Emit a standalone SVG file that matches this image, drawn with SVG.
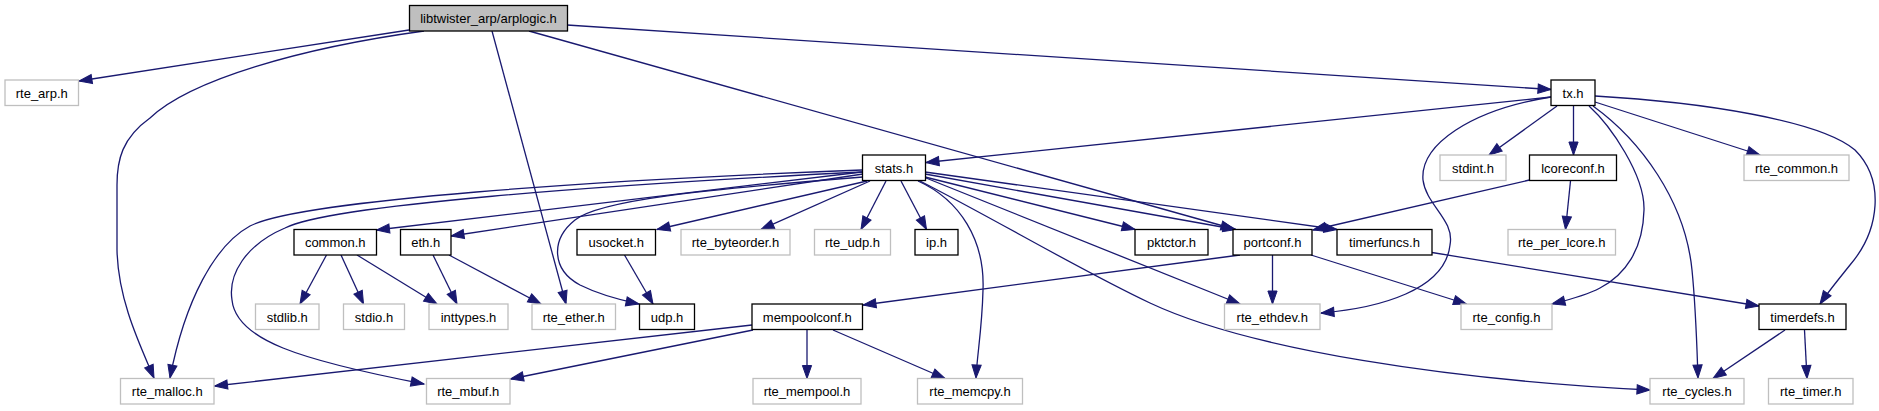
<svg xmlns="http://www.w3.org/2000/svg" width="1879" height="411" viewBox="0 0 1879 411">
<style>
.n rect{stroke-width:1.3}
.root rect{fill:#bfbfbf;stroke:#000}
.doc rect{fill:#fff;stroke:#000}
.ext rect{fill:#fff;stroke:#bfbfbf}
text{font-family:"Liberation Sans",Arial,sans-serif;font-size:13px;fill:#000;text-anchor:middle}
#edges path{fill:none;stroke:#191970;stroke-width:1.3;marker-end:url(#ah)}
</style>
<defs>
<marker id="ah" markerUnits="userSpaceOnUse" markerWidth="14" markerHeight="10" refX="13" refY="5" orient="auto" overflow="visible">
<path d="M0,0.4 L13,5 L0,9.6 z" fill="#191970" stroke="#191970" stroke-width="1"/>
</marker>
</defs>
<rect width="1879" height="411" fill="#fff"/>
<g id="edges">
<path d="M409,30 L79,81"/>
<path d="M424,31 C300,48 190,80 150,118 C122,138 117,160 117,185 L117,250 C118,300 140,345 154,378"/>
<path d="M492,31 L566,304"/>
<path d="M529,31 L1234,229"/>
<path d="M567,25 L1551,89.5"/>
<path d="M1551,97 L926,162.5"/>
<path d="M1551,97 C1470,110 1420,145 1423,180 C1426,205 1455,220 1450,245 C1445,290 1380,308 1321,313"/>
<path d="M1557,106 L1489,155"/>
<path d="M1573.5,106 L1573.5,155"/>
<path d="M1589,106 C1610,125 1645,175 1644,210 C1643,250 1625,275 1600,288 C1585,296 1568,300 1552,304"/>
<path d="M1593,106 C1640,140 1685,200 1692,270 C1696,310 1697,350 1698,378"/>
<path d="M1595,102 L1760,155"/>
<path d="M1595,96 C1700,102 1820,120 1855,150 C1885,180 1880,230 1850,265 C1838,280 1828,292 1820,304"/>
<path d="M862,170 C600,180 300,200 250,226 C215,245 185,300 170,378"/>
<path d="M862,172 C600,185 330,205 285,228 C245,245 228,275 232,300 C236,340 300,360 424,384"/>
<path d="M862,172 L376.5,230"/>
<path d="M863,174 L451,236"/>
<path d="M863,177 C700,190 600,200 575,220 C550,240 552,270 580,285 C600,295 620,300 639,304"/>
<path d="M867,181 L657,229.5"/>
<path d="M870,181 L761,229.5"/>
<path d="M886,181 L861,229.5"/>
<path d="M901,181 L926.5,229.5"/>
<path d="M918,181 C960,200 985,240 983,290 C982,330 977,355 976,378"/>
<path d="M925,177 L1135,229.5"/>
<path d="M925,174 L1236,229.5"/>
<path d="M925,172 L1337,229.5"/>
<path d="M926,178 L1240,304"/>
<path d="M920,181 C1000,222 1080,270 1150,303 C1250,350 1450,380 1650,390"/>
<path d="M326.5,255 L300,304"/>
<path d="M341,255 L363.5,304"/>
<path d="M357,255 L437,304"/>
<path d="M433,255 L457,304"/>
<path d="M449,255 L541,304"/>
<path d="M624.5,255 L653,304"/>
<path d="M1529.5,180 L1313,230"/>
<path d="M1570.5,181 L1565.5,229.5"/>
<path d="M1240,255 L863,305"/>
<path d="M1272.5,255 L1272.5,304"/>
<path d="M1311,255 L1466.5,304"/>
<path d="M1432,252.5 L1759,306"/>
<path d="M752,325 L214.5,386"/>
<path d="M753,330 L510.5,379"/>
<path d="M807,330 L807,378.5"/>
<path d="M833,330 L945,378.5"/>
<path d="M1785,330 L1713,378.5"/>
<path d="M1804.5,330 L1807,378.5"/>
</g>
<g id="n_arplogic" class="n root"><rect x="409.5" y="5.5" width="158" height="25.5"/><text x="488.5" y="23">libtwister_arp/arplogic.h</text></g>
<g id="n_rte_arp" class="n ext"><rect x="5" y="80" width="73.5" height="25.5"/><text x="41.75" y="97.5">rte_arp.h</text></g>
<g id="n_tx" class="n doc"><rect x="1551" y="80" width="44" height="25.5"/><text x="1573" y="97.5">tx.h</text></g>
<g id="n_stats" class="n doc"><rect x="862.5" y="155" width="63" height="25.5"/><text x="894" y="172.5">stats.h</text></g>
<g id="n_stdint" class="n ext"><rect x="1440" y="155" width="66" height="25.5"/><text x="1473" y="172.5">stdint.h</text></g>
<g id="n_lcoreconf" class="n doc"><rect x="1529.5" y="155" width="87" height="25.5"/><text x="1573" y="172.5">lcoreconf.h</text></g>
<g id="n_rte_common" class="n ext"><rect x="1744" y="155" width="105" height="25.5"/><text x="1796.5" y="172.5">rte_common.h</text></g>
<g id="n_common" class="n doc"><rect x="294" y="229.5" width="82.5" height="25.5"/><text x="335.25" y="247">common.h</text></g>
<g id="n_eth" class="n doc"><rect x="400.5" y="229.5" width="50.5" height="25.5"/><text x="425.75" y="247">eth.h</text></g>
<g id="n_usocket" class="n doc"><rect x="577" y="229.5" width="78.5" height="25.5"/><text x="616.25" y="247">usocket.h</text></g>
<g id="n_rte_byteorder" class="n ext"><rect x="681" y="229.5" width="109" height="25.5"/><text x="735.5" y="247">rte_byteorder.h</text></g>
<g id="n_rte_udp" class="n ext"><rect x="814.5" y="229.5" width="76" height="25.5"/><text x="852.5" y="247">rte_udp.h</text></g>
<g id="n_ip" class="n doc"><rect x="915" y="229.5" width="43" height="25.5"/><text x="936.5" y="247">ip.h</text></g>
<g id="n_pktctor" class="n doc"><rect x="1135" y="229.5" width="73" height="25.5"/><text x="1171.5" y="247">pktctor.h</text></g>
<g id="n_portconf" class="n doc"><rect x="1233" y="229.5" width="79" height="25.5"/><text x="1272.5" y="247">portconf.h</text></g>
<g id="n_timerfuncs" class="n doc"><rect x="1337" y="229.5" width="95" height="25.5"/><text x="1384.5" y="247">timerfuncs.h</text></g>
<g id="n_rte_per_lcore" class="n ext"><rect x="1508" y="229.5" width="107.5" height="25.5"/><text x="1561.75" y="247">rte_per_lcore.h</text></g>
<g id="n_stdlib" class="n ext"><rect x="255.5" y="304" width="63.5" height="25.5"/><text x="287.25" y="321.5">stdlib.h</text></g>
<g id="n_stdio" class="n ext"><rect x="343.5" y="304" width="61" height="25.5"/><text x="374" y="321.5">stdio.h</text></g>
<g id="n_inttypes" class="n ext"><rect x="429" y="304" width="79" height="25.5"/><text x="468.5" y="321.5">inttypes.h</text></g>
<g id="n_rte_ether" class="n ext"><rect x="532" y="304" width="83.5" height="25.5"/><text x="573.75" y="321.5">rte_ether.h</text></g>
<g id="n_udp" class="n doc"><rect x="639.5" y="304" width="55" height="25.5"/><text x="667" y="321.5">udp.h</text></g>
<g id="n_mempoolconf" class="n doc"><rect x="752" y="304" width="110.5" height="25.5"/><text x="807.25" y="321.5">mempoolconf.h</text></g>
<g id="n_rte_ethdev" class="n ext"><rect x="1224.5" y="304" width="95.5" height="25.5"/><text x="1272.25" y="321.5">rte_ethdev.h</text></g>
<g id="n_rte_config" class="n ext"><rect x="1461" y="304" width="91" height="25.5"/><text x="1506.5" y="321.5">rte_config.h</text></g>
<g id="n_timerdefs" class="n doc"><rect x="1759" y="304" width="87" height="25.5"/><text x="1802.5" y="321.5">timerdefs.h</text></g>
<g id="n_rte_malloc" class="n ext"><rect x="120.5" y="378.5" width="93.5" height="25.5"/><text x="167.25" y="396">rte_malloc.h</text></g>
<g id="n_rte_mbuf" class="n ext"><rect x="426.5" y="378.5" width="83.5" height="25.5"/><text x="468.25" y="396">rte_mbuf.h</text></g>
<g id="n_rte_mempool" class="n ext"><rect x="753" y="378.5" width="108" height="25.5"/><text x="807" y="396">rte_mempool.h</text></g>
<g id="n_rte_memcpy" class="n ext"><rect x="917.5" y="378.5" width="105" height="25.5"/><text x="970" y="396">rte_memcpy.h</text></g>
<g id="n_rte_cycles" class="n ext"><rect x="1650" y="378.5" width="94" height="25.5"/><text x="1697" y="396">rte_cycles.h</text></g>
<g id="n_rte_timer" class="n ext"><rect x="1768.5" y="378.5" width="84.5" height="25.5"/><text x="1810.75" y="396">rte_timer.h</text></g>
</svg>
